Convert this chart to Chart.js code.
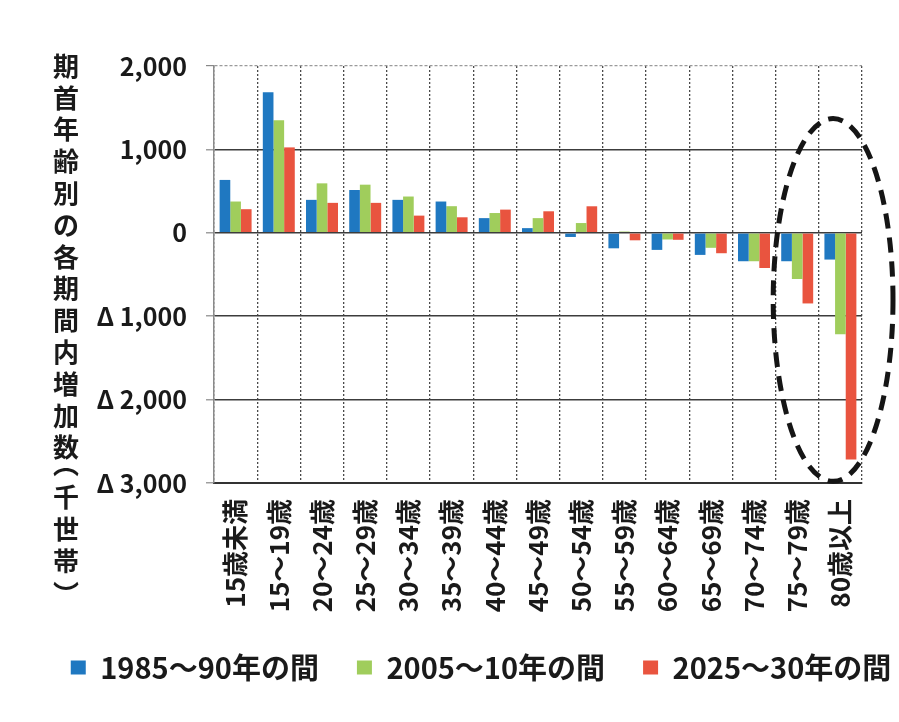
<!DOCTYPE html>
<html lang="ja">
<head>
<meta charset="utf-8">
<title>期首年齢別の各期間内増加数</title>
<script src="https://cdn.jsdelivr.net/npm/chart.js@4/dist/chart.umd.min.js"></script>
<style>
  html, body { margin: 0; padding: 0; background: #ffffff; overflow: hidden; }
  #wrap { position: absolute; left: 0; top: 0; width: 962px; height: 722px; }
</style>
</head>
<body>
<div id="wrap"><canvas id="chart" width="962" height="722"></canvas></div>
<script>
// 期首年齢階級
const categories = ['15歳未満', '15～19歳', '20～24歳', '25～29歳', '30～34歳', '35～39歳', '40～44歳',
  '45～49歳', '50～54歳', '55～59歳', '60～64歳', '65～69歳', '70～74歳', '75～79歳', '80歳以上'];

// 各期間内の世帯増加数（千世帯）
const inc1985to90 = [634, 1686, 395, 513, 395, 375, 176, 56, -50, -186, -205, -265, -341, -341, -321];
const inc2005to10 = [375, 1351, 593, 577, 435, 319, 237, 176, 117, 15, -80, -180, -341, -554, -1217];
const inc2025to30 = [283, 1024, 359, 359, 206, 186, 278, 258, 318, -90, -84, -245, -422, -847, -2718];

const seriesLabels = ['1985～90年の間', '2005～10年の間', '2025～30年の間'];
const yTicks = [2000, 1000, 0, -1000, -2000, -3000];
// 縦書き用の括弧（︵ ︶）を使う
const yTitle = '期首年齢別の各期間内増加数︵千世帯︶';

const FONT = '"Noto Sans CJK JP", "Noto Sans", sans-serif';
const WEIGHT = 'bold';

// 負の値は「Δ」を付けて表示
function formatTick(v) {
  const s = Math.abs(v).toLocaleString('en-US');
  return v < 0 ? 'Δ ' + s : s;
}

// 縦書きの軸タイトル（各字の字形の中心を列の中心に合わせる）
const verticalTitle = {
  id: 'verticalTitle',
  afterDraw(chart) {
    const ctx = chart.ctx;
    ctx.save();
    ctx.font = WEIGHT + ' 26px ' + FONT;
    ctx.fillStyle = '#1a1a1a';
    const x = 66;
    let y = 50;
    for (const ch of yTitle) {
      const isBracket = ch === '︵' || ch === '︶';
      const h = isBracket ? 18 : 31.8;
      const cy = y + h / 2;
      if (isBracket) {
        ctx.textAlign = 'left';
        ctx.textBaseline = 'alphabetic';
        const m = ctx.measureText(ch);
        const inkCx = (m.actualBoundingBoxRight - m.actualBoundingBoxLeft) / 2;
        const inkCy = (m.actualBoundingBoxDescent - m.actualBoundingBoxAscent) / 2;
        ctx.fillText(ch, x - inkCx, cy - inkCy);
      } else {
        ctx.textAlign = 'center';
        ctx.textBaseline = 'middle';
        ctx.fillText(ch, x, cy);
      }
      y += h;
    }
    ctx.restore();
  }
};

// 75歳以上の2階級を囲む破線の楕円
const highlightEllipse = {
  id: 'highlightEllipse',
  afterDatasetsDraw(chart) {
    const xs = chart.scales.x, ys = chart.scales.y;
    const left = xs.getPixelForValue(13) - 24;
    const right = chart.chartArea.right + 31;
    const top = ys.getPixelForValue(1370);
    const bottom = ys.getPixelForValue(-2980);
    const ctx = chart.ctx;
    ctx.save();
    ctx.beginPath();
    ctx.ellipse((left + right) / 2, (top + bottom) / 2, (right - left) / 2, (bottom - top) / 2, 0, 0, Math.PI * 2);
    ctx.setLineDash([15, 9]);
    ctx.lineWidth = 5;
    ctx.strokeStyle = '#151515';
    ctx.stroke();
    ctx.restore();
  }
};

new Chart(document.getElementById('chart'), {
  type: 'bar',
  data: {
    labels: categories,
    datasets: [
      { label: seriesLabels[0], data: inc1985to90, backgroundColor: '#1f78c1', borderWidth: 0 },
      { label: seriesLabels[1], data: inc2005to10, backgroundColor: '#a0cd5c', borderWidth: 0 },
      { label: seriesLabels[2], data: inc2025to30, backgroundColor: '#e9543f', borderWidth: 0 }
    ]
  },
  options: {
    responsive: false,
    animation: false,
    devicePixelRatio: 1,
    datasets: { bar: { categoryPercentage: 0.74, barPercentage: 1.0 } },
    layout: { padding: { top: 66, left: 0, right: 0, bottom: 30 } },
    plugins: {
      legend: {
        position: 'bottom',
        labels: {
          font: { family: FONT, size: 29, weight: WEIGHT },
          color: '#1a1a1a',
          boxWidth: 15,
          boxHeight: 14,
          padding: 38
        }
      },
      tooltip: { enabled: false }
    },
    scales: {
      x: {
        grid: {
          color: '#4a4a4a',
          lineWidth: 1.3,
          drawTicks: false
        },
        border: { display: true, color: '#333333', width: 2, dash: [2, 2] },
        ticks: {
          font: { family: FONT, size: 26, weight: WEIGHT },
          color: '#1a1a1a',
          minRotation: 90,
          maxRotation: 90,
          autoSkip: false,
          padding: 16
        },
        afterFit(scale) { scale.height = 132; }
      },
      y: {
        min: -3000,
        max: 2000,
        afterBuildTicks(scale) { scale.ticks = yTicks.map(v => ({ value: v })); },
        grid: {
          color: ctx => (ctx.tick && ctx.tick.value === 2000) ? '#9a9a9a' : '#3c3c3c',
          lineWidth: ctx => (ctx.tick && ctx.tick.value === 2000) ? 1.2 : 1.6,
          tickLength: 8,
          tickColor: '#888888',
          tickWidth: 1.2
        },
        border: {
          display: true,
          color: '#8a8a8a',
          width: 1.5,
          dash: ctx => (ctx.tick && ctx.tick.value === 2000) ? [3, 2] : []
        },
        ticks: {
          font: { family: FONT, size: 25, weight: WEIGHT },
          color: '#1a1a1a',
          padding: 19,
          callback: v => formatTick(v)
        },
        afterFit(scale) { scale.width = 214; }
      },
      // 右側の余白（凡例の中心位置を保つための空の軸）
      yRight: {
        position: 'right',
        display: true,
        grid: { display: false },
        border: { display: false },
        ticks: { display: false },
        afterFit(scale) { scale.width = 100; }
      }
    }
  },
  plugins: [verticalTitle, highlightEllipse]
});
</script>
</body>
</html>
